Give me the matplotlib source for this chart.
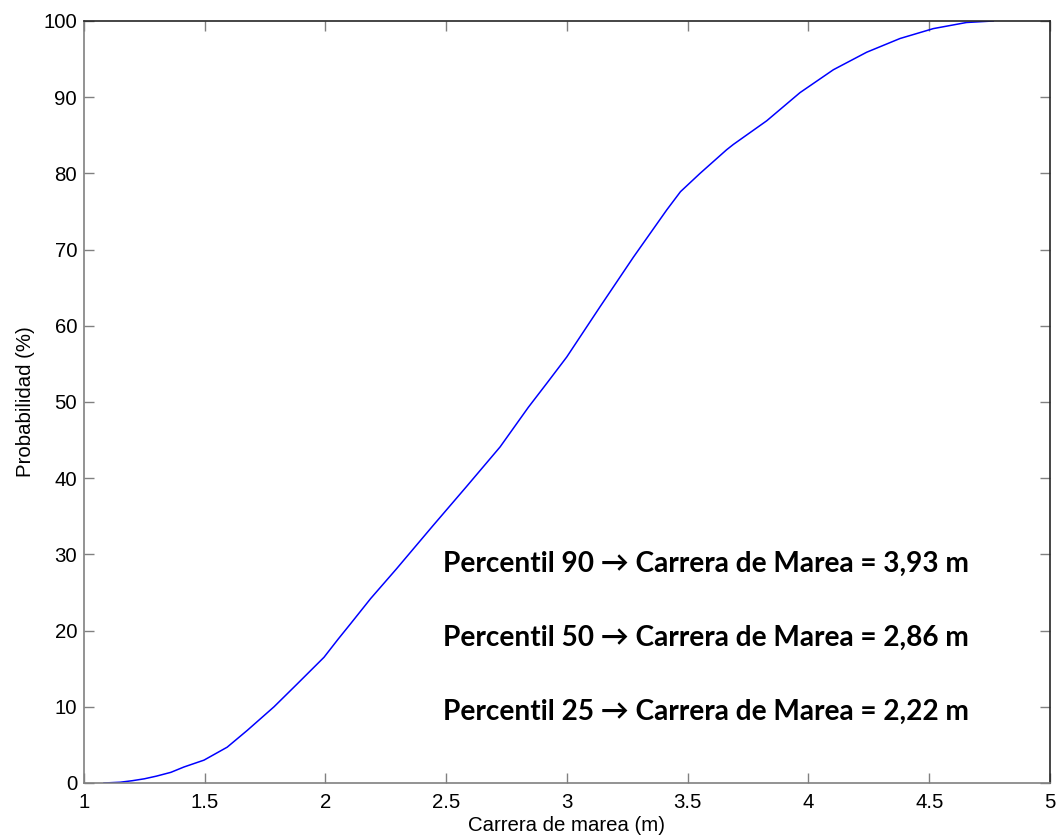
import numpy as np
import matplotlib.pyplot as plt

# valores (carrera de marea en m, probabilidad acumulada en %)
carrera = [1.083, 1.15, 1.20, 1.25, 1.30, 1.36, 1.414, 1.497, 1.593, 1.676, 1.787,
           1.883, 1.994, 2.053, 2.104, 2.187, 2.294, 2.446, 2.584, 2.723, 2.840,
           2.920, 2.999, 3.137, 3.275, 3.413, 3.470, 3.551, 3.661, 3.689, 3.827,
           3.965, 4.103, 4.241, 4.379, 4.517, 4.654, 4.765]
probabilidad = [0.0, 0.1, 0.3, 0.55, 0.9, 1.4, 2.1, 3.0, 4.7, 6.9, 10.0,
                13.0, 16.5, 18.9, 20.9, 24.2, 28.1, 33.8, 38.9, 44.1, 49.3,
                52.6, 55.9, 62.5, 69.0, 75.2, 77.6, 80.0, 83.1, 83.8, 86.9,
                90.6, 93.6, 95.9, 97.7, 99.0, 99.8, 100.0]

percentiles = [90, 50, 25]
valores_p = [3.93, 2.86, 2.22]
texto_y = [28.8, 19.1, 9.4]

xticks = [1, 1.5, 2, 2.5, 3, 3.5, 4, 4.5, 5]
xticklabels = ['1', '1.5', '2', '2.5', '3', '3.5', '4', '4.5', '5']
yticks = list(range(0, 101, 10))

plt.rcParams['font.family'] = ['Liberation Sans', 'DejaVu Sans']

fig = plt.figure(figsize=(10.56, 8.36), dpi=100)
ax = fig.add_axes([0.0795, 0.0634, 0.9148, 0.9115])

ax.plot(carrera, probabilidad, color='#0000ff', lw=1.1)

ax.set_xlim(1, 5)
ax.set_ylim(0, 100)
ax.set_xticks(xticks)
ax.set_xticklabels(xticklabels)
ax.set_yticks(yticks)
ax.tick_params(direction='in', length=7, width=1, top=True, right=True,
               labelsize=14.7, colors='#808080', labelcolor='black')
ax.tick_params(axis='x', pad=7)
ax.tick_params(axis='y', pad=5)

for s in ['left', 'bottom']:
    ax.spines[s].set_color('#808080')
for s in ['top', 'right']:
    ax.spines[s].set_color('#262626')
for s in ax.spines.values():
    s.set_linewidth(1.2)

ax.set_xlabel('Carrera de marea (m)', fontsize=14.7, labelpad=3)
ax.set_ylabel('Probabilidad (%)', fontsize=14.7, labelpad=6)

for p, v, ty in zip(percentiles, valores_p, texto_y):
    txt = 'Percentil %d \u2192 Carrera de Marea = %s m' % (p, ('%.2f' % v).replace('.', ','))
    ax.text(2.487, ty, txt, fontsize=20.2, fontweight='bold',
            family=['Lato', 'DejaVu Sans'], va='center', ha='left')

fig.savefig('out.png', dpi=100)
